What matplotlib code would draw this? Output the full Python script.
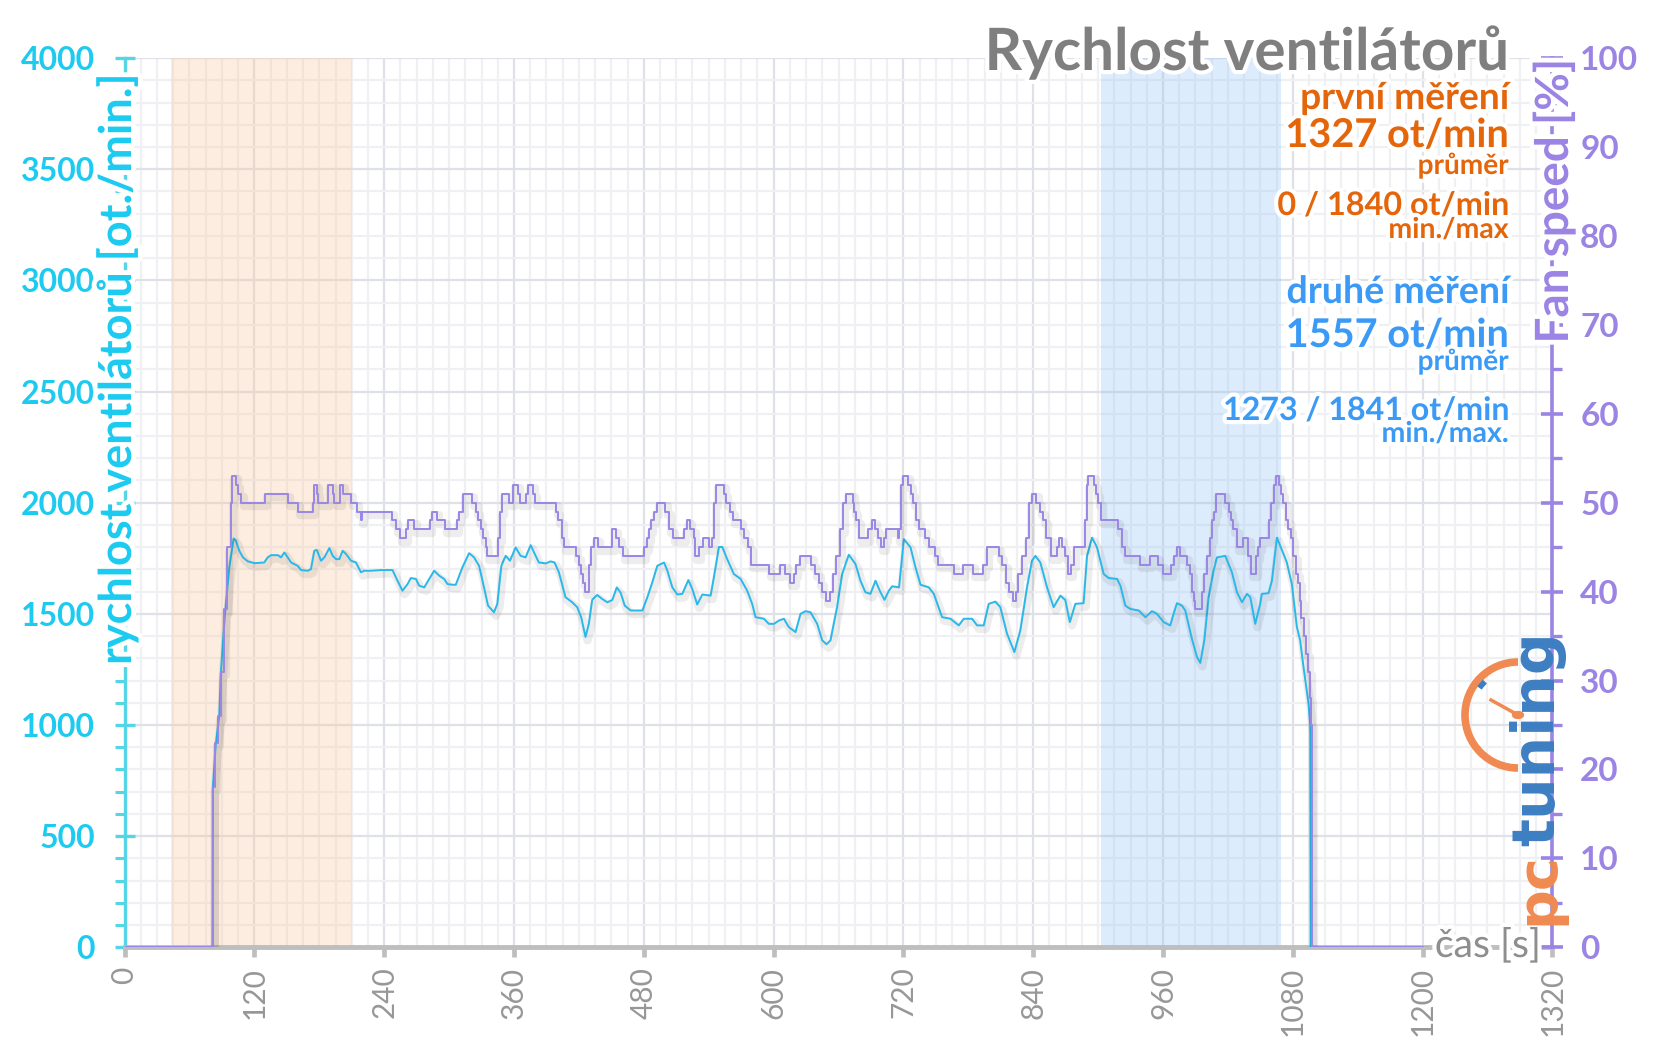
import matplotlib
matplotlib.use("Agg")
import matplotlib.pyplot as plt
from matplotlib import patheffects as pe
from matplotlib.ticker import MultipleLocator
from matplotlib.patches import Arc, Circle

plt.rcParams['font.family'] = ['Lato', 'DejaVu Sans']

# ---------------- data ----------------
t_rpm = [0, 81.3, 81.6, 84.3, 87.5, 89.1, 92.8, 96.8, 100.8, 103, 106, 109.4, 114, 120, 129, 132.3, 135.4, 141.6,
         144.6, 147.7, 150.8, 153.9, 160, 163.1, 169.3, 172.3, 175.4, 177.6, 181.6, 184.7, 189.3, 192.4, 195.5,
         198.5, 201.6, 204.7, 209.3, 213.9, 218.5, 221.6, 227.7, 237, 247.7, 252.3, 256.9, 261.6, 264.6, 269.3,
         272.3, 277, 281.6, 286.2, 290.8, 295.4, 298.5, 303.1, 306.2, 312.3, 318.5, 323.1, 327.7, 332.3, 336,
         341.5, 344.6, 348.3, 352.3, 356.3, 361.5, 366.1, 370.7, 375.4, 380, 383, 389.2, 393.8, 397.5, 401.5,
         407.6, 413.8, 418.4, 422.1, 426.1, 429.2, 432.3, 436.9, 441.5, 446.3, 451, 455, 458.6, 462.4, 467.9,
         478.7, 483.3, 487.9, 492.5, 498.7, 501.8, 506.4, 511, 515.6, 521.2, 524.8, 529.4, 534.1, 541.8, 544.8,
         549.5, 552.5, 557.1, 563.3, 569.5, 575.6, 580.2, 583.3, 591, 595.6, 600.3, 604.9, 609.5, 614.1, 620.3,
         624.9, 629.5, 634.1, 640.3, 644.9, 648.9, 652.6, 658.7, 663.4, 669.5, 675.7, 680.3, 684.9, 689.5, 694.2,
         698.8, 702.5, 706.5, 709.6, 716, 720.4, 726.6, 731.2, 735.8, 743.5, 748.1, 755.8, 763.5, 771.2, 775.8,
         783.5, 788.1, 794.3, 798.9, 805, 809.6, 815.8, 822.6, 828.1, 834.3, 838.9, 842, 846.6, 852.8, 858.9,
         865.1, 869.7, 873.9, 879, 886.6, 889.8, 894.4, 899, 905.2, 909.8, 917.5, 920.6, 925.2, 929.8, 937.5,
         943.7, 949.8, 954.4, 960.6, 966.7, 969.8, 972.9, 977.5, 980.6, 986.7, 991.4, 994.5, 998.2, 1002.2,
         1006.8, 1009.9, 1017.6, 1023.7, 1028.4, 1033, 1037.6, 1040.7, 1045.3, 1049.9, 1051.4, 1057.6, 1060.7,
         1065.3, 1068.4, 1074.5, 1079.1, 1083.8, 1086.8, 1089.9, 1094.5, 1096.1, 1096.6, 1200]
rpm = [0, 0, 720, 915, 1040, 1246, 1500, 1709, 1839, 1828, 1784, 1754, 1736, 1728, 1731, 1754, 1764, 1764,
       1754, 1776, 1754, 1731, 1716, 1697, 1694, 1701, 1784, 1788, 1739, 1754, 1796, 1761, 1746,
       1746, 1784, 1769, 1739, 1731, 1687, 1694, 1694, 1697, 1697, 1649, 1604, 1634, 1661, 1657,
       1627, 1619, 1657, 1694, 1672, 1657, 1634, 1631, 1631, 1709, 1773, 1754, 1716, 1619, 1537,
       1507, 1545, 1716, 1761, 1739, 1799, 1761, 1754, 1809, 1761, 1731, 1727, 1736, 1731, 1687,
       1575, 1552, 1530, 1485, 1396, 1455, 1563, 1585, 1567, 1552, 1563, 1619, 1595, 1537, 1515,
       1515, 1575, 1642, 1716, 1731, 1694, 1619, 1587, 1590, 1652, 1612, 1542, 1587, 1582, 1664,
       1801, 1801, 1746, 1679, 1657, 1604, 1545, 1485, 1478, 1455, 1455, 1470, 1478, 1440, 1418,
       1500, 1512, 1507, 1455, 1381, 1363, 1381, 1530, 1679, 1766, 1724, 1649, 1597, 1590, 1649,
       1597, 1563, 1604, 1624, 1619, 1836, 1799, 1709, 1631, 1619, 1590, 1485, 1478, 1448, 1478,
       1478, 1448, 1448, 1545, 1555, 1530, 1411, 1328, 1425, 1619, 1739, 1761, 1731, 1619, 1530,
       1582, 1562, 1463, 1545, 1548, 1761, 1843, 1799, 1679, 1661, 1657, 1627, 1537, 1522, 1515,
       1485, 1512, 1500, 1463, 1448, 1500, 1548, 1537, 1515, 1388, 1306, 1279, 1381, 1575,
       1694, 1754, 1761, 1687, 1597, 1552, 1590, 1575, 1455, 1545, 1590, 1593, 1649,
       1843, 1806, 1731, 1634, 1440, 1381, 1261, 1097, 1000, 0, 0]

t_pct = [0, 81.5, 83.5, 86.5, 89.5, 92, 95, 98, 99.5, 103, 105, 108, 129.5, 151, 160, 174, 175.5, 177.5, 178.5,
         188, 192.5, 194, 199, 201.5, 209, 215, 218.5, 219.5, 247, 251, 254.5, 260, 262, 268, 282, 284.5, 289,
         296.5, 307, 309.5, 313, 321.5, 324.5, 327, 329.5, 331.5, 334, 335, 345.5, 347, 348.5, 355.5, 359, 364,
         365.5, 371, 373, 377.5, 379, 398.5, 401, 404, 406.5, 417, 420, 422, 424, 425.5, 429, 431, 434, 438,
         451, 454.5, 457.5, 460.5, 480, 483, 485, 487, 489.5, 492, 500, 503, 507, 517, 520, 523, 526, 527.5,
         531, 535, 540.5, 543, 545, 547, 554, 556, 559.5, 562.5, 569.5, 573, 576, 579, 595.5, 606, 611, 615,
         619, 621, 624, 635, 638, 642, 645, 648, 652, 655, 658, 661, 664, 667, 673, 674.5, 676.5, 678.5, 687,
         691, 694, 696.5, 699.5, 702, 704, 715, 716, 718, 719.5, 724, 727, 729, 732, 734, 740, 744, 749, 752,
         767, 775, 784, 794, 797, 808, 811, 814.5, 818, 821, 824, 826, 830, 833, 836, 839, 843, 846, 849, 852,
         856, 862, 864, 867, 869.5, 872, 875, 878, 888, 889.5, 891, 896, 898, 900, 903, 918, 922, 925, 939,
         948, 955, 960, 967, 970.5, 973, 976, 982, 985, 987, 989, 990, 996, 998, 1001, 1003, 1005, 1007,
         1009, 1017, 1021, 1023, 1025, 1028, 1034, 1039, 1041, 1046, 1048, 1050, 1058, 1060, 1063, 1064.5,
         1067.5, 1069, 1071, 1074, 1076, 1078, 1080, 1083, 1085, 1086.5, 1088, 1090, 1092, 1094, 1096, 1097,
         1097.5, 1200]
pct = [0, 18, 23, 26, 31, 38, 45, 50, 53, 52, 51, 50, 51, 50, 49, 50, 52, 51, 50,
       52, 51, 50, 52, 51, 50, 49, 48, 49, 48, 47, 46, 47, 48, 47, 48, 49, 48,
       47, 48, 49, 51, 50, 49, 48, 47, 46, 45, 44, 46, 49, 51, 50, 52, 51,
       50, 51, 52, 51, 50, 49, 48, 46, 45, 44, 43, 42, 41, 40, 43, 45, 46, 45,
       47, 46, 45, 44, 45, 46, 47, 48, 49, 50, 49, 47, 46, 47, 48, 47, 46, 44,
       45, 46, 45, 46, 50, 52, 51, 50, 49, 48, 47, 46, 45, 43, 42, 43, 42, 41,
       42, 43, 44, 43, 42, 41, 40, 39, 40, 42, 44, 47, 50, 51, 50, 49, 48, 46, 47,
       48, 47, 46, 45, 46, 47, 46, 47, 52, 53, 52, 51, 50, 48, 47, 46, 45, 44, 43,
       42, 43, 42, 43, 45, 44, 43, 41, 40, 39, 40, 42, 44, 46, 50, 51, 50, 49, 48, 46,
       44, 45, 46, 45, 44, 42, 43, 45, 48, 52, 53, 52, 51, 50, 48, 47, 45, 44, 43,
       44, 43, 42, 43, 44, 45, 44, 43, 42, 40, 39, 38, 40, 42, 44, 46, 48, 49,
       51, 50, 49, 48, 47, 45, 46, 44, 42, 44, 45, 46, 48, 50, 52, 53,
       52, 51, 50, 48, 47, 46, 44, 42, 41, 39, 37, 35, 33, 31, 28, 25,
       0, 0]

first_span = (43, 210)
second_span = (902.5, 1069.5)

x_ticks = list(range(0, 1321, 120))
rpm_ticks = list(range(0, 4001, 500))
pct_ticks = list(range(0, 101, 10))

title = "Rychlost ventilátorů"
left_label = "rychlost ventilátorů [ot./min.]"
right_label = "Fan speed [%]"
x_label = "čas [s]"
first_texts = ["první měření", "1327 ot/min", "průměr", "0 / 1840 ot/min", "min./max"]
second_texts = ["druhé měření", "1557 ot/min", "průměr", "1273 / 1841 ot/min", "min./max."]

# ---------------- figure ----------------
W, H = 1656, 1044
fig = plt.figure(figsize=(W / 100, H / 100), dpi=100)
L, R, B, T = 124.6, 1552.4, 947.3, 58.1
ax = fig.add_axes([L / W, 1 - B / H, (R - L) / W, (B - T) / H])
ax2 = ax.twinx()

CYAN_TXT = '#1ECBF0'
CYAN_AX = '#55D5E6'
PURP = '#9B84E4'
GRAY_AX = '#BEBEBE'
ORANGE = '#E4650A'
BLUE = '#3A9AF5'

ax.set_xlim(0, 1320)
ax.set_ylim(0, 4000)
ax2.set_ylim(0, 100)

ax.set_xticks(x_ticks)
ax.set_xticklabels([str(v) for v in x_ticks])
ax.xaxis.set_minor_locator(MultipleLocator(15))
ax.set_yticks(rpm_ticks)
ax.set_yticklabels([str(v) for v in rpm_ticks])
ax.yaxis.set_minor_locator(MultipleLocator(100))
ax2.set_yticks(pct_ticks)
ax2.set_yticklabels([str(v) for v in pct_ticks])
ax2.yaxis.set_minor_locator(MultipleLocator(5))

ax.set_axisbelow(True)
ax.grid(which='major', color='#DFE1E8', lw=1.6)
ax.grid(which='minor', color='#EFF0F4', lw=1.6)

ax.axvspan(*first_span, color='#F9C9A0', alpha=0.32, lw=0, zorder=1)
ax.axvspan(*second_span, color='#7FB8F5', alpha=0.26, lw=0, zorder=1)

for s in ['top', 'right']:
    ax.spines[s].set_visible(False)
for s in ['top', 'left', 'bottom']:
    ax2.spines[s].set_visible(False)
ax.spines['left'].set_color(CYAN_AX)
ax.spines['left'].set_linewidth(2.4)
ax.spines['bottom'].set_color(GRAY_AX)
ax.spines['bottom'].set_linewidth(3.5)
ax2.spines['right'].set_color(PURP)
ax2.spines['right'].set_linewidth(2.6)

ax.tick_params(axis='x', which='major', direction='out', length=7, width=3.4, color=GRAY_AX,
               labelsize=21.5, labelcolor='#979797', labelrotation=90, pad=7)
ax.tick_params(axis='x', which='minor', length=0)
ax.tick_params(axis='y', which='major', direction='inout', length=15, width=2.4, color=CYAN_AX,
               labelsize=23, labelcolor=CYAN_TXT, pad=14)
ax.tick_params(axis='y', which='minor', direction='out', length=7, width=2.2, color=CYAN_AX)
ax2.tick_params(axis='y', which='major', direction='inout', length=16, width=2.6, color=PURP,
                labelsize=24, labelcolor=PURP, pad=12)
ax2.tick_params(axis='y', which='minor', direction='out', length=7, width=2.4, color=PURP)
for lab in ax.get_yticklabels() + ax2.get_yticklabels():
    lab.set_fontweight('bold')

shadow = [pe.SimpleLineShadow(offset=(1.5, -2.5), shadow_color='k', alpha=0.07, linewidth=6), pe.Normal()]
ax.plot(t_rpm, rpm, color='#29B8EA', lw=1.4, zorder=3, path_effects=shadow)
ax2.plot(t_pct, pct, color='#9A86E6', lw=1.4, zorder=3, drawstyle='steps-post', path_effects=shadow)

# ---------------- texts ----------------
renderer = fig.canvas.get_renderer()
halo = [pe.withStroke(linewidth=6, foreground='white')]


def fit_text(s, target_w, x, y, rotation=0, **kw):
    t = fig.text(x / W, 1 - y / H, s, fontsize=20, **kw)
    w = t.get_window_extent(renderer).width
    t.set_fontsize(20 * target_w / w)
    t.set_rotation(rotation)
    return t


fit_text(title, 524, 1509, 70, ha='right', va='baseline', color='#7F7F7F', fontweight='bold',
         path_effects=halo, zorder=5)

xr = 1509
fw = [209, 223, 91, 232, 120]
sw = [223, 223, 91, 286, 127]
fy = [109, 147, 174, 215, 238]
sy = [303, 347, 370, 420, 442]
for s, w, y in zip(first_texts, fw, fy):
    fit_text(s, w, xr, y, ha='right', va='baseline', color=ORANGE, fontweight='bold', path_effects=halo, zorder=5)
for s, w, y in zip(second_texts, sw, sy):
    fit_text(s, w, xr, y, ha='right', va='baseline', color=BLUE, fontweight='bold', path_effects=halo, zorder=5)

fit_text(left_label, 591, 117, 370, rotation=90, ha='center', va='center', color=CYAN_TXT,
         fontweight='bold', path_effects=[pe.withStroke(linewidth=7, foreground='white')], zorder=5)
fit_text(right_label, 285, 1554, 201, rotation=90, ha='center', va='center', color=PURP,
         fontweight='bold', path_effects=[pe.withStroke(linewidth=7, foreground='white')], zorder=5)
fit_text(x_label, 106, 1488, 957, ha='center', va='baseline', color='#8E8E8E',
         path_effects=[pe.withStroke(linewidth=6, foreground='white')], zorder=5)

# logo (pctuning)
logo_shadow = [pe.withSimplePatchShadow(offset=(1.5, -1.5), alpha=0.15)]
fit_text("pc", 73, 1538, 925, rotation=90, ha='center', va='bottom', color='#F08A52',
         fontweight='bold', family='DejaVu Sans', zorder=6)
fit_text("tuning", 215, 1538, 846, rotation=90, ha='center', va='bottom', color='#3D7EC2',
         fontweight='bold', family='DejaVu Sans', zorder=6)
cx, cy, r = 1518, 715, 53
fig.add_artist(Arc((cx / W, 1 - cy / H), 2 * r / W, 2 * r / H, theta1=90, theta2=270,
                   transform=fig.transFigure, color='#F08A52', lw=5.5, zorder=6))
fig.add_artist(Arc((cx / W, 1 - cy / H), 2 * (r - 6) / W, 2 * (r - 6) / H, theta1=122, theta2=132,
                   transform=fig.transFigure, color='#3D7EC2', lw=4, zorder=7))
fig.add_artist(plt.Line2D([cx / W, (cx - 27) / W], [1 - cy / H, 1 - (cy - 15) / H],
                          transform=fig.transFigure, color='#F08A52', lw=2.5, zorder=7))
fig.add_artist(Circle((cx / W, 1 - cy / H), 0.0033, transform=fig.transFigure,
                      color='#F08A52', zorder=7))

fig.savefig('out.png', dpi=100)
